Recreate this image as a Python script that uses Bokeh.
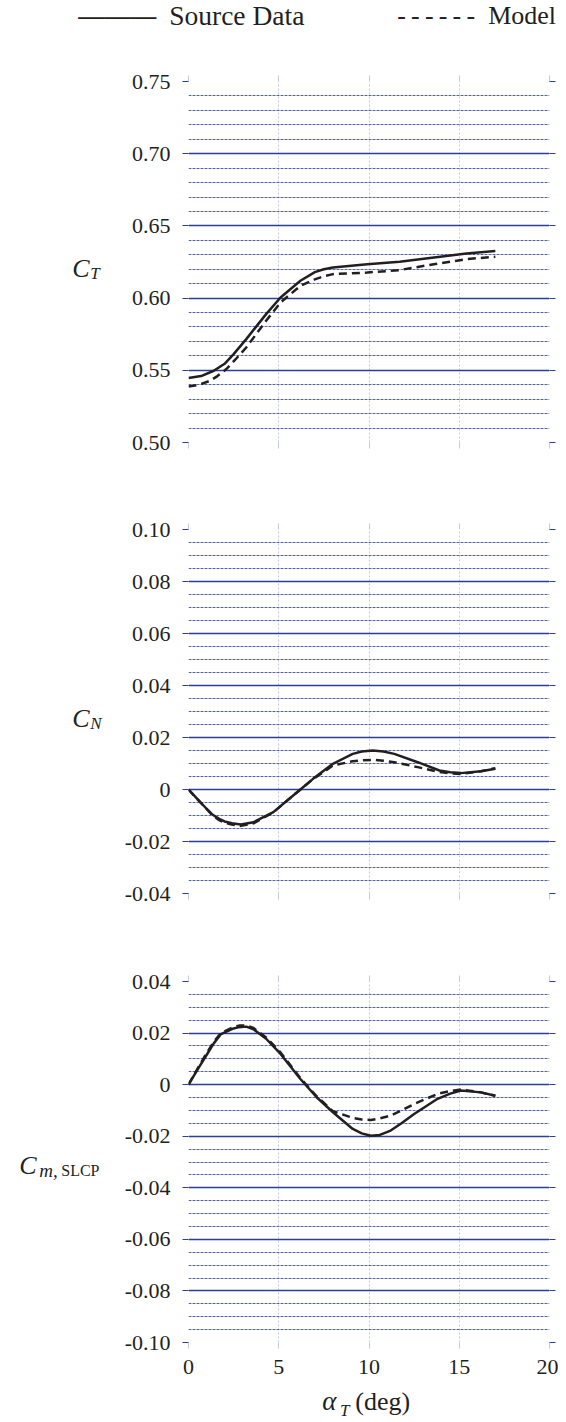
from bokeh.plotting import figure
from bokeh.layouts import column
from bokeh.models import (Range1d, SingleIntervalTicker, FixedTicker, LinearAxis,
                          Label, CustomJSTickFormatter)
from bokeh.embed import file_html
from bokeh.resources import INLINE

# ---------------- data ----------------
x_ticks = [0, 5, 10, 15, 20]

ct_src_x = [0, 0.7, 1.4, 2.0, 2.5, 3.2, 4.3, 5.1, 6.2, 7.0, 7.5, 8.0, 9.9, 11.7, 13.6, 15.4, 17.0]
ct_src_y = [0.5446, 0.5460, 0.5497, 0.5545, 0.5612, 0.5716, 0.5889, 0.6004, 0.6120, 0.6180,
            0.6200, 0.6212, 0.6235, 0.6251, 0.6281, 0.6309, 0.6327]
ct_mod_x = [0, 0.6, 1.2, 1.6, 2.1, 2.6, 3.2, 4.3, 5.1, 6.2, 7.0, 7.5, 8.0, 9.9, 11.7, 13.6, 15.4, 17.0]
ct_mod_y = [0.5388, 0.5400, 0.5428, 0.5460, 0.5509, 0.5575, 0.5658, 0.5843, 0.5970, 0.6085,
            0.6130, 0.6152, 0.6166, 0.6177, 0.6194, 0.6235, 0.6270, 0.6286]

cn_x = [0, 0.5, 1.0, 1.3, 1.7, 2.0, 2.4, 2.9, 3.6, 4.7, 5.8, 6.9, 8.0, 9.1, 9.6, 10.2, 10.8,
        11.4, 12.7, 13.9, 14.5, 15.1, 16.2, 17.0]
cn_src_y = [0, -0.0037, -0.0074, -0.0095, -0.0113, -0.0123, -0.0130, -0.0135, -0.0126,
            -0.0087, -0.0023, 0.0041, 0.0099, 0.0137, 0.0146, 0.0150, 0.0146, 0.0137,
            0.0105, 0.0073, 0.0066, 0.0063, 0.0070, 0.0080]
cn_mod_y = [0, -0.0038, -0.0075, -0.0098, -0.0118, -0.0127, -0.0135, -0.0140, -0.0130,
            -0.0088, -0.0023, 0.0040, 0.0092, 0.0109, 0.0112, 0.0114, 0.0111, 0.0105,
            0.0086, 0.0067, 0.0062, 0.0060, 0.0070, 0.0082]

cm_x = [0, 0.5, 1.0, 1.4, 1.8, 2.5, 2.8, 3.2, 3.6, 4.3, 5.1, 6.2, 7.1, 8.0, 9.1, 9.6, 10.1,
        10.6, 11.2, 11.8, 12.5, 13.8, 14.5, 15.1, 16.2, 17.0]
cm_src_y = [0, 0.0058, 0.0115, 0.0160, 0.0196, 0.0218, 0.0223, 0.0225, 0.0215, 0.0178,
            0.0119, 0.0022, -0.0049, -0.0107, -0.0172, -0.0189, -0.0198, -0.0195, -0.0178,
            -0.0150, -0.0114, -0.0055, -0.0035, -0.0023, -0.0030, -0.0043]
cm_mod_y = [0, 0.0062, 0.0122, 0.0166, 0.0200, 0.0224, 0.0229, 0.0230, 0.0220, 0.0183,
            0.0125, 0.0025, -0.0045, -0.0103, -0.0129, -0.0135, -0.0137, -0.0131, -0.0120,
            -0.0100, -0.0075, -0.0036, -0.0025, -0.0019, -0.0030, -0.0043]

# ---------------- styling ----------------
FONT = "Liberation Serif"
TXT = "#231f20"
BLUE = "#2b3f99"
MINOR = "#4153a8"
VGRID = "#c3c9e6"
W = 558
DASH = "8 5"

fmt = CustomJSTickFormatter(code="return Math.abs(tick) < 1e-9 ? '0' : tick.toFixed(2);")


def tick_only_axis(ticker, color):
    return LinearAxis(ticker=ticker, axis_line_color=None, major_tick_in=0, major_tick_out=6,
                      major_tick_line_color=color, minor_tick_in=0, minor_tick_out=0,
                      major_label_text_font_size="0px", major_label_text_color=None,
                      major_label_standoff=0)


def panel(yr, interval, nminor, height, top, bottom, show_x):
    p = figure(width=W, height=height, x_range=Range1d(0, 20), y_range=Range1d(*yr),
               output_backend="svg", toolbar_location=None, x_axis_location=None,
               min_border_left=188, min_border_right=9,
               min_border_top=top, min_border_bottom=bottom)
    p.outline_line_color = None
    p.background_fill_color = "white"
    p.border_fill_color = "white"
    yt = SingleIntervalTicker(interval=interval, num_minor_ticks=nminor)
    xt = FixedTicker(ticks=x_ticks)
    ya = p.yaxis[0]
    ya.ticker = yt
    ya.formatter = fmt
    ya.axis_line_color = None
    ya.major_tick_in = 0
    ya.major_tick_out = 6
    ya.major_tick_line_color = BLUE
    ya.minor_tick_out = 0
    ya.minor_tick_in = 0
    ya.major_label_standoff = 12
    ya.major_label_text_font = FONT
    ya.major_label_text_font_size = "22px"
    ya.major_label_text_color = TXT
    p.add_layout(tick_only_axis(yt, BLUE), "right")
    p.add_layout(tick_only_axis(xt, VGRID), "above")
    if show_x:
        xa = LinearAxis(ticker=xt, axis_line_color=None, major_tick_in=0, major_tick_out=6,
                        major_tick_line_color=VGRID, minor_tick_in=0, minor_tick_out=0,
                        major_label_text_font=FONT, major_label_text_font_size="22px",
                        major_label_text_color=TXT, major_label_standoff=11)
    else:
        xa = tick_only_axis(xt, VGRID)
    p.add_layout(xa, "below")
    p.xgrid.ticker = xt
    p.xgrid.grid_line_color = VGRID
    p.xgrid.grid_line_dash = "2 2"
    p.xgrid.grid_line_width = 1
    p.ygrid.ticker = yt
    p.ygrid.grid_line_color = BLUE
    p.ygrid.grid_line_width = 1.3
    p.ygrid.minor_grid_line_color = MINOR
    p.ygrid.minor_grid_line_dash = "3 1"
    p.ygrid.minor_grid_line_width = 1
    p.ygrid.minor_grid_line_alpha = 0.9
    return p


def lab(p, side, x, y, text, size, style="italic"):
    p.add_layout(Label(x=x, y=y, x_units="data", y_units="data", text=text,
                       text_font=FONT, text_font_style=style,
                       text_font_size=size, text_color=TXT,
                       text_baseline="middle", text_align="left"), side)


# ---------------- panel 1 : C_T ----------------
p1 = panel((0.50, 0.75), 0.05, 5, 485, 81, 43, False)
p1.line(ct_src_x, ct_src_y, line_color=TXT, line_width=2.5)
p1.line(ct_mod_x, ct_mod_y, line_color=TXT, line_width=2.5, line_dash=DASH)
# legend (placed above the first panel)
lab(p1, "left", -6.11, 0.7955, "———", "26px", "bold")
lab(p1, "above", -1.07, 0.7955, "Source Data", "27.5px", "normal")
lab(p1, "above", 11.56, 0.7955,
    "-\u2009-\u2009-\u2009-\u2009-\u2009-\u00a0\u00a0Model", "26px", "normal")
lab(p1, "left", -6.44, 0.6203, "C", "26px")
lab(p1, "left", -5.44, 0.6168, "T", "17px")

# ---------------- panel 2 : C_N ----------------
p2 = panel((-0.04, 0.10), 0.02, 4, 452, 44, 44, False)
p2.line(cn_x, cn_src_y, line_color=TXT, line_width=2.5)
p2.line(cn_x, cn_mod_y, line_color=TXT, line_width=2.5, line_dash=DASH)
lab(p2, "left", -6.44, 0.0273, "C", "26px")
lab(p2, "left", -5.44, 0.0254, "N", "17px")

# ---------------- panel 3 : C_m,SLCP ----------------
p3 = panel((-0.10, 0.04), 0.02, 4, 485, 44, 80, True)
p3.line(cm_x, cm_src_y, line_color=TXT, line_width=2.5)
p3.line(cm_x, cm_mod_y, line_color=TXT, line_width=2.5, line_dash=DASH)
lab(p3, "left", -9.38, -0.0314, "C", "26px")
lab(p3, "left", -8.27, -0.0333, "m,", "19px")
lab(p3, "left", -7.05, -0.0333, "SLCP", "16px", "normal")
# x-axis title: alpha_T (deg)
lab(p3, "left", 7.41, -0.1228, "α", "27px")
lab(p3, "left", 8.40, -0.1265, "T", "17px")
lab(p3, "below", 9.24, -0.1228, "(deg)", "26px", "normal")

layout = column(p1, p2, p3, spacing=0)
open("out.html", "w").write(file_html(layout, INLINE))
